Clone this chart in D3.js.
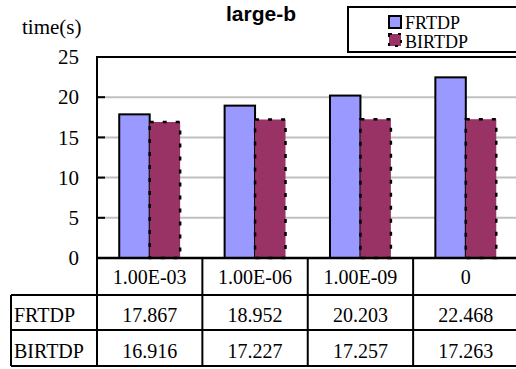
<!DOCTYPE html>
<html><head><meta charset="utf-8">
<script src="https://cdn.jsdelivr.net/npm/d3@7"></script>
<style>body{margin:0;background:#fff}svg{display:block}</style>
</head><body>
<svg id="c" width="516" height="369"></svg>
<script>
const categories = ["1.00E-03", "1.00E-06", "1.00E-09", "0"];
const seriesNames = ["FRTDP", "BIRTDP"];
const frtdp = [17.867, 18.952, 20.203, 22.468];
const birtdp = [16.916, 17.227, 17.257, 17.263];
const yTicks = [0, 5, 10, 15, 20, 25];
const seriesValues = [frtdp, birtdp];
const colors = ["#9999FF", "#993366"];

const svg = d3.select("#c");
const SERIF = "Liberation Serif";
const SANS = "Liberation Sans";
function serifText(sel, size) {
  return sel.style("font-family", SERIF).style("font-size", size + "px").attr("fill", "#000");
}

const L = 97, T = 57, B = 258, R = 518.5;
const tableLeft = 11, headerBottom = 295, row1Bottom = 330, row2Bottom = 366;

const x = d3.scaleBand().domain(categories).range([L, R]);
const x1 = d3.scaleBand().domain(seriesNames).range([0, x.bandwidth()]).paddingOuter(0.73);
const y = d3.scaleLinear().domain([0, 25]).range([B, T]);

// gridlines
svg.append("g").selectAll("line").data(yTicks.filter(t => t > 0 && t < 25)).join("line")
  .attr("x1", L).attr("x2", R).attr("y1", d => y(d)).attr("y2", d => y(d))
  .attr("stroke", "#c0c0c0").attr("stroke-width", 2);

// bars
const data = [];
categories.forEach((c, i) => seriesNames.forEach((s, j) => data.push({c, s, j, v: seriesValues[j][i]})));
svg.append("g").selectAll("rect").data(data).join("rect")
  .attr("x", d => x(d.c) + x1(d.s))
  .attr("y", d => y(d.v))
  .attr("width", x1.bandwidth())
  .attr("height", d => y(0) - y(d.v))
  .attr("fill", d => colors[d.j])
  .attr("stroke", "#000")
  .attr("stroke-width", d => d.j === 0 ? 2 : 2.5)
  .attr("stroke-dasharray", d => d.j === 0 ? null : "4,9");

// plot frame (top, left, bottom)
svg.append("path").attr("d", `M${L},${row2Bottom}V${T}H${R}`).attr("fill", "none").attr("stroke", "#000").attr("stroke-width", 2);
svg.append("line").attr("x1", L).attr("x2", R).attr("y1", B).attr("y2", B).attr("stroke", "#000").attr("stroke-width", 2.5);

// y axis ticks and labels
const yAxis = d3.axisLeft(y).tickValues(yTicks).tickSize(0).tickPadding(18);
const ga = svg.append("g").attr("transform", `translate(${L},0)`).call(yAxis);
ga.attr("font-family", null).attr("font-size", null);
ga.select(".domain").remove();
serifText(ga.selectAll("text"), 21);
svg.append("g").selectAll("line").data(yTicks.filter(t => t > 0 && t < 25)).join("line")
  .attr("x1", L).attr("x2", L + 8).attr("y1", d => y(d)).attr("y2", d => y(d))
  .attr("stroke", "#000").attr("stroke-width", 2);

// table
const tg = svg.append("g").attr("stroke", "#000").attr("stroke-width", 2);
[headerBottom, row1Bottom, row2Bottom].forEach(yy =>
  tg.append("line").attr("x1", tableLeft).attr("x2", R).attr("y1", yy).attr("y2", yy));
tg.append("line").attr("x1", tableLeft).attr("x2", tableLeft).attr("y1", headerBottom).attr("y2", row2Bottom);
categories.forEach(c => {
  const xx = x(c) + x.bandwidth();
  tg.append("line").attr("x1", xx).attr("x2", xx).attr("y1", B).attr("y2", row2Bottom);
});

const txt = svg.append("g");
serifText(txt.selectAll("text.h").data(categories).join("text").attr("class", "h")
  .attr("x", d => x(d) + x.bandwidth() / 2).attr("y", 284).attr("text-anchor", "middle").text(d => d), 20);
const rowBase = [322, 358];
seriesNames.forEach((s, j) => {
  serifText(txt.append("text").attr("x", 14).attr("y", rowBase[j]).text(s), 20);
  serifText(txt.selectAll(null).data(categories).join("text")
    .attr("x", d => x(d) + x.bandwidth() / 2).attr("y", rowBase[j]).attr("text-anchor", "middle")
    .text((d, i) => seriesValues[j][i].toFixed(3)), 20);
});

// title and axis title
svg.append("text").attr("x", 261).attr("y", 21).attr("text-anchor", "middle")
  .style("font-family", SANS).style("font-weight", "bold").style("font-size", "21px").text("large-b");
serifText(svg.append("text").attr("x", 22).attr("y", 34).text("time(s)"), 21);

// legend
const lg = svg.append("g");
lg.append("rect").attr("x", 348).attr("y", 7).attr("width", 200).attr("height", 45)
  .attr("fill", "#fff").attr("stroke", "#000").attr("stroke-width", 2);
const legY = [16, 34];
const legBase = [28.5, 47.5];
seriesNames.forEach((s, j) => {
  lg.append("rect").attr("x", 389).attr("y", legY[j]).attr("width", 12).attr("height", 12)
    .attr("fill", colors[j]).attr("stroke", "#000").attr("stroke-width", 2)
    .attr("stroke-dasharray", j === 0 ? null : "3,6");
  serifText(lg.append("text").attr("x", 405).attr("y", legBase[j]).text(s), 18);
});
</script>
</body></html>
